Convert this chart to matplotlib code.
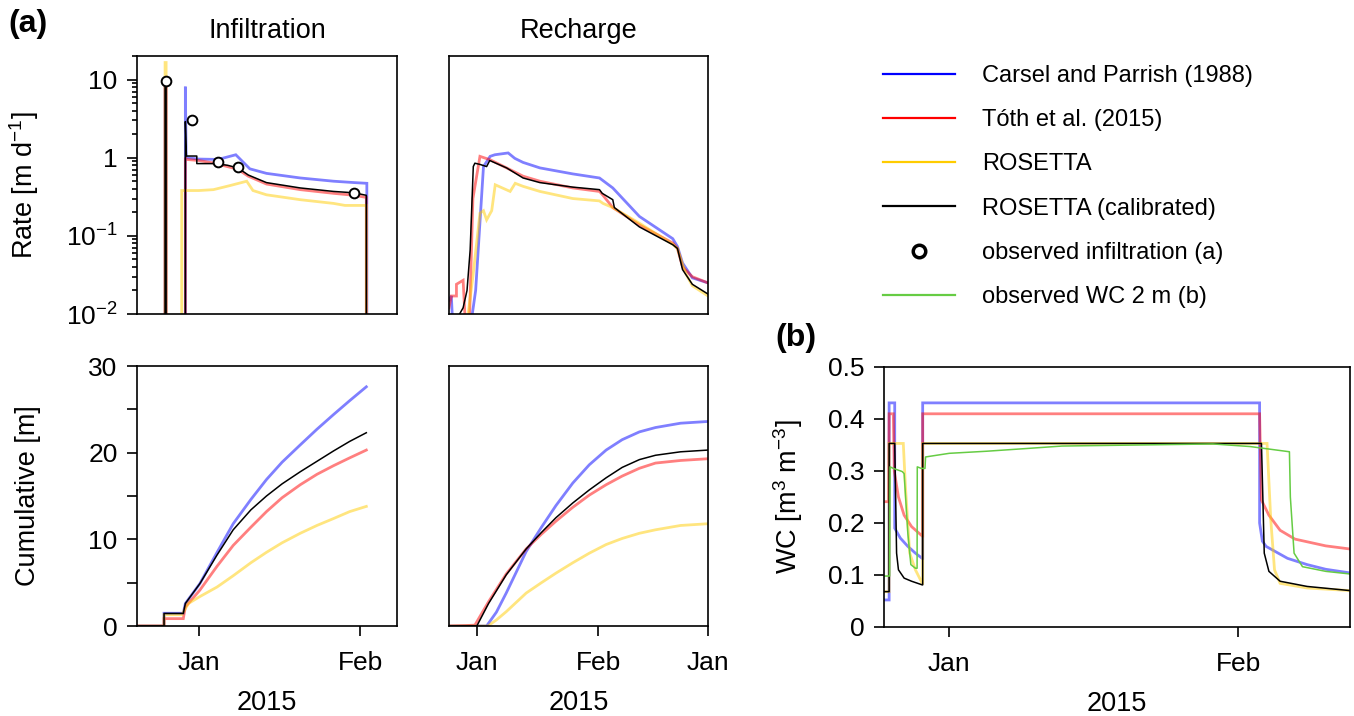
import numpy as np
import matplotlib
matplotlib.use("Agg")
import matplotlib.pyplot as plt
from matplotlib.lines import Line2D
from matplotlib.ticker import FixedLocator, FixedFormatter, LogLocator, NullFormatter

plt.rcParams['font.family'] = ['Liberation Sans', 'DejaVu Sans']
plt.rcParams['mathtext.fontset'] = 'custom'
plt.rcParams['mathtext.rm'] = 'Liberation Sans'
plt.rcParams['mathtext.it'] = 'Liberation Sans:italic'
plt.rcParams['mathtext.bf'] = 'Liberation Sans:bold'

# ---------------- data (days relative to 1 Jan 2015) ----------------
# Infiltration rate [m/d]
inf_blue_t = [-11.9, -6.5, -6.5, -6.3, -6.3, -2.6, -2.6, -2.45, 0, 3.7, 7.1, 9.8, 13.0, 19.5, 25.9, 29.9, 32.3, 32.3, 38.1]
inf_blue_v = [0, 0, 9.0, 9.0, 0, 0, 8.1, 1.0, 0.96, 0.95, 1.09, 0.72, 0.63, 0.55, 0.50, 0.48, 0.47, 0, 0]
inf_red_t = [-11.9, -6.5, -6.5, -6.3, -6.3, -2.6, -2.6, -2.4, 0, 3.0, 7.5, 9.5, 13.0, 19.5, 25.9, 29.9, 32.2, 32.2, 38.1]
inf_red_v = [0, 0, 9.0, 9.0, 0, 0, 1.0, 0.95, 0.92, 0.85, 0.71, 0.58, 0.46, 0.39, 0.35, 0.33, 0.31, 0, 0]
inf_yel_t = [-11.9, -6.5, -6.5, -6.3, -6.3, -3.3, -3.3, 0, 2.8, 6.0, 9.2, 10.4, 13.0, 19.5, 25.9, 28.1, 32.2, 32.2, 38.1]
inf_yel_v = [0, 0, 16.5, 16.5, 0, 0, 0.38, 0.38, 0.39, 0.44, 0.50, 0.38, 0.335, 0.29, 0.26, 0.245, 0.245, 0, 0]
inf_blk_t = [-11.9, -6.5, -6.5, -6.3, -6.3, -2.6, -2.6, -2.4, -0.4, -0.4, 3.0, 5.5, 7.5, 9.5, 13.0, 19.5, 25.9, 29.9, 32.2, 32.2, 38.1]
inf_blk_v = [0, 0, 9.2, 9.2, 0, 0, 2.9, 1.05, 1.05, 0.84, 0.84, 0.80, 0.74, 0.60, 0.48, 0.41, 0.37, 0.355, 0.33, 0, 0]
obs_inf_t = [-6.4, -1.4, 3.7, 7.5, 29.9]
obs_inf_v = [9.5, 3.0, 0.88, 0.75, 0.35]

# Recharge rate [m/d]
rec_blue_t = [-7.1, -6.5, -6.0, -2.0, -0.3, 1.7, 3.4, 4.6, 8.0, 9.7, 11.8, 16.1, 24.5, 31.3, 34.7, 41.5, 50, 51.2, 52.5, 55, 59]
rec_blue_v = [0.015, 0.017, 0.005, 0.005, 0.02, 0.77, 1.04, 1.09, 1.15, 0.98, 0.87, 0.74, 0.62, 0.55, 0.41, 0.177, 0.092, 0.073, 0.045, 0.029, 0.025]
rec_red_t = [-7.1, -6.5, -5.2, -5.2, -3.5, -3.0, -2.0, -1.0, 0.8, 3.4, 7.6, 11.8, 16.1, 24.5, 31.3, 32.2, 34.7, 41.5, 50, 51.2, 52.5, 55, 59]
rec_red_v = [0.012, 0.017, 0.017, 0.024, 0.027, 0.009, 0.005, 0.3, 1.04, 0.94, 0.74, 0.58, 0.50, 0.41, 0.37, 0.33, 0.23, 0.138, 0.081, 0.069, 0.040, 0.030, 0.025]
rec_yel_t = [-7.1, -3.0, -1.0, 0.8, 1.7, 2.5, 3.8, 4.7, 8.5, 9.8, 11.8, 16.1, 24.5, 31.3, 32.2, 34.7, 41.5, 50, 51.2, 53.3, 55, 59]
rec_yel_v = [0.005, 0.005, 0.03, 0.195, 0.21, 0.16, 0.21, 0.45, 0.37, 0.47, 0.43, 0.37, 0.30, 0.28, 0.26, 0.23, 0.145, 0.078, 0.069, 0.033, 0.023, 0.017]
rec_blk_t = [-7.1, -5.5, -3.5, -2.5, -1.7, -0.9, -0.5, 0.8, 2.5, 3.3, 7.6, 11.8, 16.1, 24.5, 31.3, 32.0, 34.7, 35.1, 41.5, 50, 51.2, 52.5, 55, 59]
rec_blk_v = [0.008, 0.008, 0.012, 0.02, 0.066, 0.77, 0.85, 0.82, 0.77, 0.92, 0.74, 0.55, 0.48, 0.42, 0.39, 0.35, 0.29, 0.23, 0.13, 0.077, 0.069, 0.037, 0.024, 0.018]

# Cumulative infiltration [m]
cinf_t = [-11.9, -6.7, -6.7, -3.0, -2.6, 0.2, 3.5, 6.6, 10, 13, 16, 19.5, 22.7, 25.9, 29, 32.2]
cinf_blue = [0, 0, 1.47, 1.47, 2.6, 4.9, 8.5, 11.8, 14.6, 16.9, 18.9, 20.9, 22.7, 24.4, 26.0, 27.6]
cinf_red = [0, 0, 0.85, 0.85, 2.2, 4.15, 6.9, 9.3, 11.4, 13.2, 14.8, 16.3, 17.5, 18.5, 19.4, 20.3]
cinf_blk = [0, 0, 1.45, 1.45, 2.6, 4.9, 8.2, 11.1, 13.4, 15.0, 16.4, 17.8, 19.0, 20.2, 21.3, 22.3]
cinf_yel_t = [-11.9, -6.7, -6.7, -3.3, -3.0, -2.0, 0.2, 3.5, 6.6, 10, 13, 16, 19.5, 22.7, 25.9, 29, 32.2]
cinf_yel = [0, 0, 1.3, 1.3, 1.6, 2.6, 3.4, 4.5, 5.8, 7.3, 8.5, 9.6, 10.7, 11.6, 12.4, 13.2, 13.8]

# Cumulative recharge [m]
crec_blk_t = [-7.1, 0, 3, 7.5, 12.6, 16.5, 20.2, 24.5, 28.7, 33, 37.1, 41.5, 45.6, 52, 59]
crec_blk = [0, 0, 2.6, 5.9, 8.9, 10.8, 12.5, 14.2, 15.7, 17.1, 18.3, 19.2, 19.7, 20.1, 20.3]
crec_red_t = [-7.1, -3, -0.5, 3, 7.5, 12.6, 16.5, 20.2, 24.5, 28.7, 33, 37.1, 41.5, 45.6, 52, 59]
crec_red = [0, 0.05, 0.1, 2.8, 6.0, 8.9, 10.6, 12.1, 13.7, 15.1, 16.3, 17.3, 18.2, 18.8, 19.1, 19.3]
crec_blue_t = [-7.1, 2.5, 5, 7.5, 12.6, 16.5, 20.2, 24.5, 28.7, 33, 37.1, 41.5, 45.6, 52, 59]
crec_blue = [0, 0, 1.6, 3.8, 8.6, 11.4, 13.9, 16.5, 18.6, 20.3, 21.5, 22.4, 22.9, 23.4, 23.6]
crec_yel_t = [-7.1, 2.8, 5, 7.5, 12.6, 16.5, 20.2, 24.5, 28.7, 33, 37.1, 41.5, 45.6, 52, 59]
crec_yel = [0, 0, 0.7, 1.65, 3.8, 5.0, 6.1, 7.3, 8.4, 9.4, 10.1, 10.7, 11.1, 11.6, 11.8]

# Water content at 2 m [m3/m3]
wc_blue_t = [-7.0, -6.45, -6.45, -5.85, -5.85, -5.25, -4.44, -3.63, -2.9, -2.85, -2.85, 33.3, 33.3, 33.6, 34.0, 36.3, 38.4, 40.4, 43.0]
wc_blue = [0.052, 0.052, 0.431, 0.431, 0.19, 0.171, 0.155, 0.142, 0.132, 0.132, 0.431, 0.431, 0.20, 0.165, 0.155, 0.132, 0.120, 0.111, 0.104]
wc_red_t = [-7.0, -6.5, -6.45, -6.0, -5.9, -5.45, -4.84, -4.04, -2.9, -2.85, -2.85, 33.3, 33.5, 34.3, 35.5, 37.1, 40.4, 43.0]
wc_red = [0.241, 0.241, 0.41, 0.41, 0.30, 0.25, 0.215, 0.193, 0.175, 0.175, 0.41, 0.41, 0.244, 0.215, 0.186, 0.169, 0.156, 0.150]
wc_yel_t = [-7.0, -6.45, -6.45, -4.93, -4.7, -4.24, -3.63, -2.9, -2.85, -2.85, 34.1, 34.5, 34.9, 35.5, 38.4, 43.0]
wc_yel = [0.068, 0.068, 0.353, 0.353, 0.27, 0.142, 0.11, 0.084, 0.084, 0.353, 0.353, 0.206, 0.11, 0.084, 0.075, 0.070]
wc_blk_t = [-7.0, -6.45, -6.45, -5.85, -5.65, -5.45, -4.84, -4.04, -2.9, -2.85, -2.85, 33.5, 33.8, 34.3, 35.5, 38.4, 43.0]
wc_blk = [0.068, 0.068, 0.353, 0.353, 0.142, 0.11, 0.094, 0.088, 0.081, 0.081, 0.353, 0.353, 0.142, 0.107, 0.088, 0.078, 0.070]
wc_obs_t = [-7.0, -6.4, -6.35, -6.0, -5.05, -4.84, -4.44, -4.12, -3.63, -3.45, -3.43, -3.0, -2.6, -2.54, 0, 4.0, 8.1, 12.1, 20.2, 28.3, 32.3, 36.5, 36.6, 37.0, 37.9, 40.4, 43.0]
wc_obs = [0.098, 0.098, 0.308, 0.305, 0.299, 0.295, 0.18, 0.12, 0.113, 0.113, 0.308, 0.305, 0.305, 0.327, 0.334, 0.338, 0.343, 0.348, 0.350, 0.352, 0.347, 0.337, 0.25, 0.142, 0.116, 0.107, 0.102]

legend_labels = ["Carsel and Parrish (1988)", "Tóth et al. (2015)", "ROSETTA",
                 "ROSETTA (calibrated)", "observed infiltration (a)", "observed WC 2 m (b)"]
month_ticks_a = [0, 31]
month_ticks_rec = [0, 31, 59]
month_labels_a = ["Jan", "Feb"]
month_labels_rec = ["Jan", "Feb", "Jan"]

# ---------------- styling ----------------
C_BLUE, C_RED, C_YEL, C_BLK, C_GRN = '#0000ff', '#ff0000', '#ffcc00', '#000000', '#66cc44'
ALPHA = 0.5
LW_C = 2.0
LW_K = 1.1
FS_TICK = 19
FS_LAB = 19.5
FS_YLAB = 19.5

W, H = 1354, 716
fig = plt.figure(figsize=(W / 100, H / 100), dpi=100)

def fax(x0, y0, x1, y1):
    return fig.add_axes([x0 / W, 1 - y1 / H, (x1 - x0) / W, (y1 - y0) / H])

ax_ir = fax(137, 56, 397, 314)
ax_rr = fax(449, 56, 708, 314)
ax_ic = fax(137, 366, 397, 626)
ax_rc = fax(449, 366, 708, 626)
ax_wc = fax(884, 367, 1350, 627)

for ax in (ax_ir, ax_rr, ax_ic, ax_rc, ax_wc):
    for s in ax.spines.values():
        s.set_linewidth(1.2)
    ax.tick_params(which='both', direction='out', width=1.2, labelsize=FS_TICK)
    ax.tick_params(which='major', length=7)

def colored(ax, series):
    for t, v, c in series:
        ax.plot(t, v, color=c, alpha=ALPHA, lw=LW_C, solid_joinstyle='miter')

# --- infiltration rate ---
ax_ir.set_yscale('log', nonpositive='clip')
colored(ax_ir, [(inf_blue_t, inf_blue_v, C_BLUE), (inf_red_t, inf_red_v, C_RED), (inf_yel_t, inf_yel_v, C_YEL)])
ax_ir.plot(inf_blk_t, inf_blk_v, color=C_BLK, lw=LW_K)
ax_ir.plot(obs_inf_t, obs_inf_v, 'o', ms=7, mfc='white', mec='black', mew=1.4, ls='none')
ax_ir.set_ylim(0.01, 20)
ax_ir.set_xlim(-11.9, 38.1)
ax_ir.yaxis.set_major_locator(FixedLocator([0.01, 0.1, 1, 10]))
ax_ir.yaxis.set_major_formatter(FixedFormatter(['10$^{-2}$', '10$^{-1}$', '1', '10']))
ax_ir.yaxis.set_minor_locator(LogLocator(base=10, subs=np.arange(2, 10)))
ax_ir.yaxis.set_minor_formatter(NullFormatter())
ax_ir.tick_params(which='minor', length=3.5)
ax_ir.tick_params(axis='y', which='major', pad=7)
ax_ir.tick_params(axis='x', which='both', bottom=False, labelbottom=False)
ax_ir.set_ylabel('Rate [m d$^{-1}$]', fontsize=FS_YLAB)
ax_ir.yaxis.set_label_coords(-0.37, 0.5)
ax_ir.set_title('Infiltration', fontsize=FS_LAB, pad=13)

# --- recharge rate ---
ax_rr.set_yscale('log', nonpositive='clip')
colored(ax_rr, [(rec_blue_t, rec_blue_v, C_BLUE), (rec_red_t, rec_red_v, C_RED), (rec_yel_t, rec_yel_v, C_YEL)])
ax_rr.plot(rec_blk_t, rec_blk_v, color=C_BLK, lw=LW_K)
ax_rr.set_ylim(0.01, 20)
ax_rr.set_xlim(-7.1, 59)
ax_rr.tick_params(which='both', left=False, labelleft=False, bottom=False, labelbottom=False)
ax_rr.set_title('Recharge', fontsize=FS_LAB, pad=13)

# --- cumulative infiltration ---
colored(ax_ic, [(cinf_t, cinf_blue, C_BLUE), (cinf_t, cinf_red, C_RED), (cinf_yel_t, cinf_yel, C_YEL)])
ax_ic.plot(cinf_t, cinf_blk, color=C_BLK, lw=LW_K)
ax_ic.set_ylim(0, 30)
ax_ic.set_xlim(-11.9, 38.1)
ax_ic.set_yticks([0, 10, 20, 30])
ax_ic.set_yticks([5, 15, 25], minor=True)
ax_ic.tick_params(which='minor', length=7)
ax_ic.tick_params(axis='y', which='major', pad=7)
ax_ic.set_xticks(month_ticks_a, month_labels_a)
ax_ic.tick_params(axis='x', pad=11)
ax_ic.set_ylabel('Cumulative [m]', fontsize=FS_YLAB)
ax_ic.yaxis.set_label_coords(-0.37, 0.5)
ax_ic.set_xlabel('2015', fontsize=FS_LAB, labelpad=11)

# --- cumulative recharge ---
colored(ax_rc, [(crec_blue_t, crec_blue, C_BLUE), (crec_red_t, crec_red, C_RED), (crec_yel_t, crec_yel, C_YEL)])
ax_rc.plot(crec_blk_t, crec_blk, color=C_BLK, lw=LW_K)
ax_rc.set_ylim(0, 30)
ax_rc.set_xlim(-7.1, 59)
ax_rc.tick_params(which='both', left=False, labelleft=False)
ax_rc.set_xticks(month_ticks_rec, month_labels_rec)
ax_rc.tick_params(axis='x', pad=11)
ax_rc.set_xlabel('2015', fontsize=FS_LAB, labelpad=11)

# --- water content ---
colored(ax_wc, [(wc_blue_t, wc_blue, C_BLUE), (wc_red_t, wc_red, C_RED), (wc_yel_t, wc_yel, C_YEL)])
ax_wc.plot(wc_blk_t, wc_blk, color=C_BLK, lw=LW_K)
ax_wc.plot(wc_obs_t, wc_obs, color=C_GRN, lw=1.1)
ax_wc.set_ylim(0, 0.5)
ax_wc.set_xlim(-7.0, 43.0)
ax_wc.set_yticks([0, 0.1, 0.2, 0.3, 0.4, 0.5], ['0', '0.1', '0.2', '0.3', '0.4', '0.5'])
ax_wc.tick_params(axis='y', pad=7)
ax_wc.set_xticks(month_ticks_a, month_labels_a)
ax_wc.tick_params(axis='x', pad=11)
ax_wc.set_ylabel('WC [m$^3$ m$^{-3}$]', fontsize=FS_YLAB)
ax_wc.yaxis.set_label_coords(-0.17, 0.5)
ax_wc.set_xlabel('2015', fontsize=FS_LAB, labelpad=11)

# --- panel letters ---
fig.text(0.006, 0.988, '(a)', fontsize=23, fontweight='bold', ha='left', va='top')
fig.text(0.573, 0.549, '(b)', fontsize=23, fontweight='bold', ha='left', va='top')

# --- legend ---
handles = [Line2D([], [], color=C_BLUE, lw=1.6),
           Line2D([], [], color=C_RED, lw=1.6),
           Line2D([], [], color=C_YEL, lw=1.6),
           Line2D([], [], color=C_BLK, lw=1.6),
           Line2D([], [], marker='o', ls='none', ms=9, mfc='white', mec='black', mew=2.5),
           Line2D([], [], color=C_GRN, lw=1.6)]
fig.legend(handles, legend_labels, loc='upper left', bbox_to_anchor=(883 / W, 1 - 65 / H),
           frameon=False, fontsize=17, handlelength=3.05, handletextpad=1.15,
           labelspacing=0.94, borderpad=0, borderaxespad=0)

fig.savefig('out.png', dpi=100)
